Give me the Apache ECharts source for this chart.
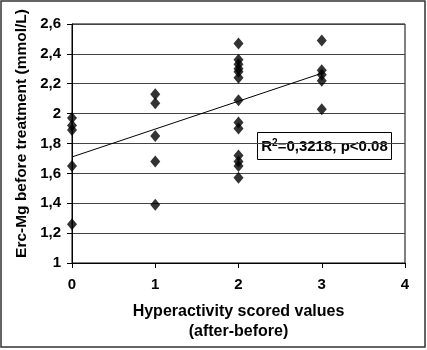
<!DOCTYPE html>
<html>
<head>
<meta charset="utf-8">
<script src="https://cdn.jsdelivr.net/npm/echarts@6/dist/echarts.min.js"></script>
<style>
html,body{margin:0;padding:0;background:#fff;}
#chart{width:427px;height:350px;}
</style>
</head>
<body>
<div id="chart"></div>
<script>
// Data
const scoreValues = [0, 1, 2, 3];
const mgAt0 = [1.97, 1.92, 1.89, 1.65, 1.26];
const mgAt1 = [2.13, 2.07, 1.85, 1.68, 1.39];
const mgAt2 = [2.47, 2.36, 2.33, 2.30, 2.28, 2.24, 2.09, 1.94, 1.90, 1.72, 1.68, 1.65, 1.57];
const mgAt3 = [2.49, 2.29, 2.26, 2.22, 2.03];
const trendX = [0, 3];
const trendY = [1.71, 2.27];
const yTicks = ['1', '1,2', '1,4', '1,6', '1,8', '2', '2,2', '2,4', '2,6'];
const xTicks = ['0', '1', '2', '3', '4'];
const annotationText = 'R{sup|2}=0,3218, p<0.08';

const groups = [mgAt0, mgAt1, mgAt2, mgAt3];
const points = [];
groups.forEach((arr, i) => arr.forEach(v => points.push([scoreValues[i], v])));

const FONT = '"Liberation Sans", Arial, sans-serif';
const chart = echarts.init(document.getElementById('chart'), null, {renderer: 'canvas'});
chart.setOption({
  animation: false,
  backgroundColor: '#fff',
  grid: {left: 72, right: 22, top: 24, bottom: 87, show: true, borderColor: '#000', borderWidth: 1, backgroundColor: 'transparent'},
  xAxis: {
    type: 'value', min: 0, max: 4, interval: 1,
    name: 'Hyperactivity scored values\n(after-before)',
    nameLocation: 'middle', nameGap: 39,
    nameTextStyle: {fontFamily: FONT, fontWeight: 'bold', fontSize: 16, color: '#000', lineHeight: 20},
    axisLine: {show: true, lineStyle: {color: '#000', width: 1}},
    axisTick: {show: true, inside: false, length: 5, lineStyle: {color: '#000'}},
    axisLabel: {margin: 14, fontFamily: FONT, fontWeight: 'bold', fontSize: 15, color: '#000',
      formatter: v => xTicks[Math.round(v)]},
    splitLine: {show: false}
  },
  yAxis: {
    type: 'value', min: 1, max: 2.6, interval: 0.2,
    name: 'Erc-Mg before treatment (mmol/L)',
    nameLocation: 'middle', nameGap: 37,
    nameTextStyle: {fontFamily: FONT, fontWeight: 'bold', fontSize: 15.5, color: '#000', padding: [0, 0, 0, 20]},
    axisLine: {show: true, lineStyle: {color: '#000', width: 1}},
    axisTick: {show: true, inside: false, length: 5, lineStyle: {color: '#000'}},
    axisLabel: {margin: 11, fontFamily: FONT, fontWeight: 'bold', fontSize: 15, color: '#000',
      formatter: v => yTicks[Math.round((v - 1) / 0.2)]},
    splitLine: {show: true, lineStyle: {color: '#444', width: 1}}
  },
  series: [
    {
      type: 'line', data: trendX.map((x, i) => [x, trendY[i]]),
      showSymbol: false, symbol: 'none', lineStyle: {color: '#000', width: 1}, z: 2, silent: true
    },
    {
      type: 'scatter', data: points, symbol: 'diamond', symbolSize: [10, 12],
      itemStyle: {color: '#000'}, z: 3
    }
  ],
  graphic: [
    {type: 'rect', shape: {x: 1, y: 1, width: 424, height: 346}, style: {fill: 'none', stroke: '#333', lineWidth: 1.5}, z: 100},
    {type: 'group', left: 257, top: 132, z: 50, children: [
      {type: 'rect', shape: {x: 0, y: 0, width: 134, height: 27}, style: {fill: '#fff', stroke: '#000', lineWidth: 1}},
      {type: 'text', x: 67, y: 14, style: {text: annotationText, align: 'center', verticalAlign: 'middle',
        font: 'bold 15px ' + FONT, fill: '#000',
        rich: {sup: {fontSize: 10, fontWeight: 'bold', fontFamily: FONT, verticalAlign: 'top', padding: [0, 0, 7, 0]}}}}
    ]}
  ]
});
</script>
</body>
</html>
